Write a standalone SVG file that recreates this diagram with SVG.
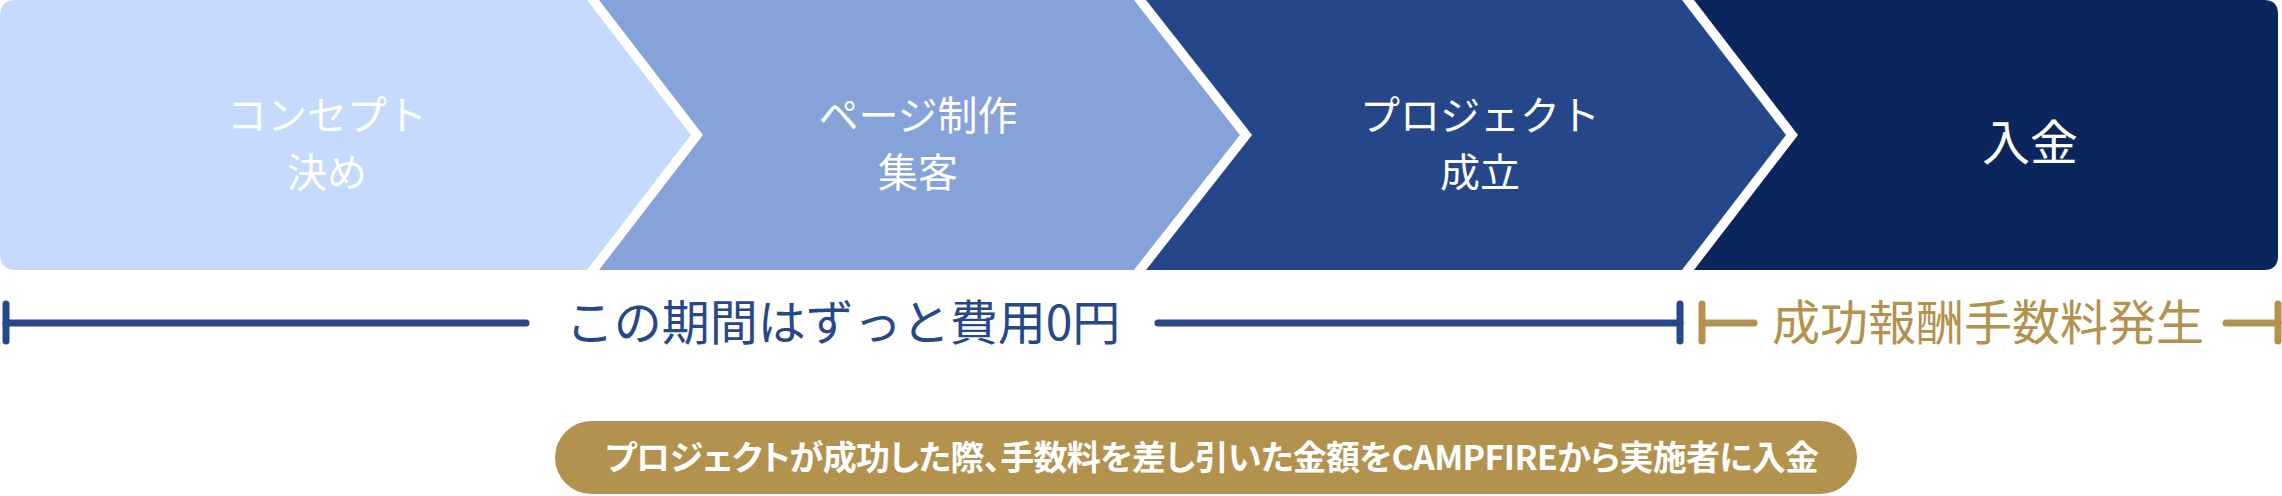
<svg xmlns="http://www.w3.org/2000/svg" width="2282" height="496" viewBox="0 0 2282 496">
<style>
.lbl{font-family:"Noto Sans CJK JP","Noto Sans CJK SC",sans-serif;fill:#ffffff;font-size:40px;text-anchor:middle;font-weight:400}
.sep{fill:none;stroke:#ffffff;stroke-width:9.5;stroke-linejoin:miter}
.blue{stroke:#26478a;stroke-width:7;stroke-linecap:round;fill:none}
.gold{stroke:#b3924e;stroke-width:7;stroke-linecap:round;fill:none}
.tl{font-family:"Noto Sans CJK JP","Noto Sans CJK SC",sans-serif;font-size:48px;text-anchor:middle}
.note{font-family:"Noto Sans CJK JP","Noto Sans CJK SC",sans-serif;font-size:34px;font-weight:700;fill:#ffffff;font-feature-settings:"palt" 1}
</style>
<rect width="2282" height="496" fill="#ffffff"/>
<g id="step1">
<path d="M16,0 H593 L697,135 L593,270 H16 Q0,270 0,254 V16 Q0,0 16,0 Z" fill="#c6dafd"/>
<text class="lbl" x="327" y="130">コンセプト</text>
<text class="lbl" x="327" y="187">決め</text>
</g>
<g id="step2">
<path d="M593,0 H1140 L1246,135 L1140,270 H593 L697,135 Z" fill="#85a3d9"/>
<text class="lbl" x="918" y="130">ページ制作</text>
<text class="lbl" x="918" y="187">集客</text>
</g>
<g id="step3">
<path d="M1140,0 H1688 L1792,135 L1688,270 H1140 L1246,135 Z" fill="#25478a"/>
<text class="lbl" x="1480" y="130">プロジェクト</text>
<text class="lbl" x="1480" y="187">成立</text>
</g>
<g id="step4">
<path d="M1688,0 H2264 Q2278,0 2278,14 V256 Q2278,270 2264,270 H1688 L1792,135 Z" fill="#0b255d"/>
<text class="lbl" x="2030" y="160" style="font-size:48px">入金</text>
</g>
<g id="separators">
<polyline class="sep" points="585.3,-10 697,135 585.3,280"/>
<polyline class="sep" points="1132.1,-10 1246,135 1132.1,280"/>
<polyline class="sep" points="1680.3,-10 1792,135 1680.3,280"/>
</g>
<g id="connectors">
<line class="blue" x1="6" y1="304" x2="6" y2="341"/>
<line class="blue" x1="6" y1="323" x2="526" y2="323"/>
<line class="blue" x1="1158" y1="323" x2="1680" y2="323"/>
<line class="blue" x1="1680" y1="304" x2="1680" y2="341"/>
<line class="gold" x1="1702" y1="304" x2="1702" y2="341"/>
<line class="gold" x1="1702" y1="323" x2="1754" y2="323"/>
<line class="gold" x1="2226" y1="323" x2="2278" y2="323"/>
<line class="gold" x1="2278" y1="304" x2="2278" y2="341"/>
</g>
<g id="free-period">
<text class="tl" x="843" y="340" fill="#26478a">この期間はずっと費用0円</text>
</g>
<g id="fee-period">
<text class="tl" x="1988" y="340" fill="#b3924e">成功報酬手数料発生</text>
</g>
<g id="note">
<rect x="555" y="421" width="1302" height="73" rx="36.5" fill="#b3924e"/>
<text class="note" x="605" y="470" textLength="1214" lengthAdjust="spacing">プロジェクトが成功した際、手数料を差し引いた金額をCAMPFIREから実施者に入金</text>
</g>
</svg>
